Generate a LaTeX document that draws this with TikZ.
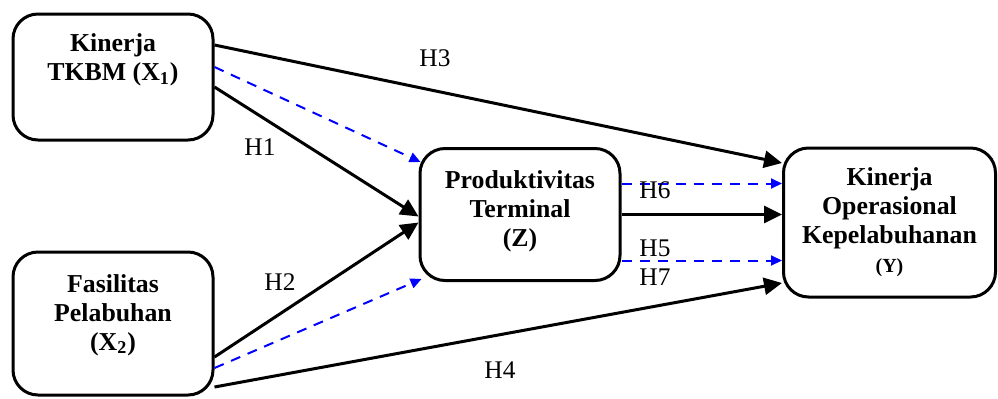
\documentclass[tikz,border=0pt]{standalone}
\usepackage{fontspec}
\setmainfont{Liberation Serif}
\usetikzlibrary{arrows.meta}
\begin{document}
\begin{tikzpicture}[x=0.5pt,y=-0.5pt,
  box/.style={draw=black,line width=1.5pt,rounded corners=12.5pt,minimum width=#1},
  boxtext/.style={align=center,font=\fontsize{12.9}{14.5}\selectfont\bfseries,inner sep=0pt},
  hlab/.style={font=\fontsize{12.7}{14}\selectfont,inner sep=0pt},
  solidarrow/.style={line width=1.5pt,-{Triangle[length=9pt,width=8.5pt]}},
  bluearrow/.style={draw=blue,line width=1pt,dash pattern=on 5pt off 4pt,-{Triangle[length=5.5pt,width=5pt]}}]
\useasboundingbox (0,0) rectangle (998,398);
% boxes
\node[box=100pt,minimum height=63pt] (x1) at (113,77) {};
\node[box=100pt,minimum height=71.5pt] (x2) at (113,323.5) {};
\node[box=100pt,minimum height=66pt] (z) at (520,214.5) {};
\node[box=106pt,minimum height=74.5pt] (y) at (889.5,222.5) {};
% texts
\node[boxtext] (tx1) at (113,60) {Kinerja\\TKBM (X\textsubscript{1})};
\node[boxtext] (tx2) at (113,315) {Fasilitas\\Pelabuhan\\(X\textsubscript{2})};
\node[boxtext] (tz) at (520,211) {Produktivitas\\Terminal\\(Z)};
\node[boxtext] (ty) at (889.5,222) {Kinerja\\Operasional\\Kepelabuhanan\\{\fontsize{10}{12}\selectfont (Y)}};
% connectors
\draw[solidarrow] ([yshift=16pt]x1.east) -- ([yshift=29.75pt]y.west);
\draw[bluearrow] ([yshift=5pt]x1.east) -- ([shift={(1pt,-7.5pt)}]z.north west);
\draw[solidarrow] ([yshift=-5pt]x1.east) -- ([yshift=-1pt]z.west);
\draw[solidarrow] ([yshift=-16.75pt]x2.east) -- ([yshift=-4pt]z.west);
\draw[bluearrow] ([yshift=-22.25pt]x2.east) -- ([shift={(1.5pt,1.5pt)}]z.south west);
\draw[solidarrow] ([yshift=-31.75pt]x2.east) -- ([yshift=-30.25pt]y.west);
\draw[bluearrow] ([yshift=15.5pt]z.east) coordinate (h6s) -- (y.west |- h6s);
\draw[solidarrow] (z.east) -- (y.west |- z.east);
\draw[bluearrow] ([yshift=-23pt]z.east) coordinate (h5s) -- (y.west |- h5s);
% labels
\node[hlab] (lh3) at (435,58) {H3};
\node[hlab] (lh1) at (260,147) {H1};
\node[hlab] (lh2) at (280,282) {H2};
\node[hlab] (lh6) at (655,190) {H6};
\node[hlab] (lh5) at (655,248) {H5};
\node[hlab] (lh7) at (655,277) {H7};
\node[hlab] (lh4) at (500,370) {H4};
\end{tikzpicture}
\end{document}
